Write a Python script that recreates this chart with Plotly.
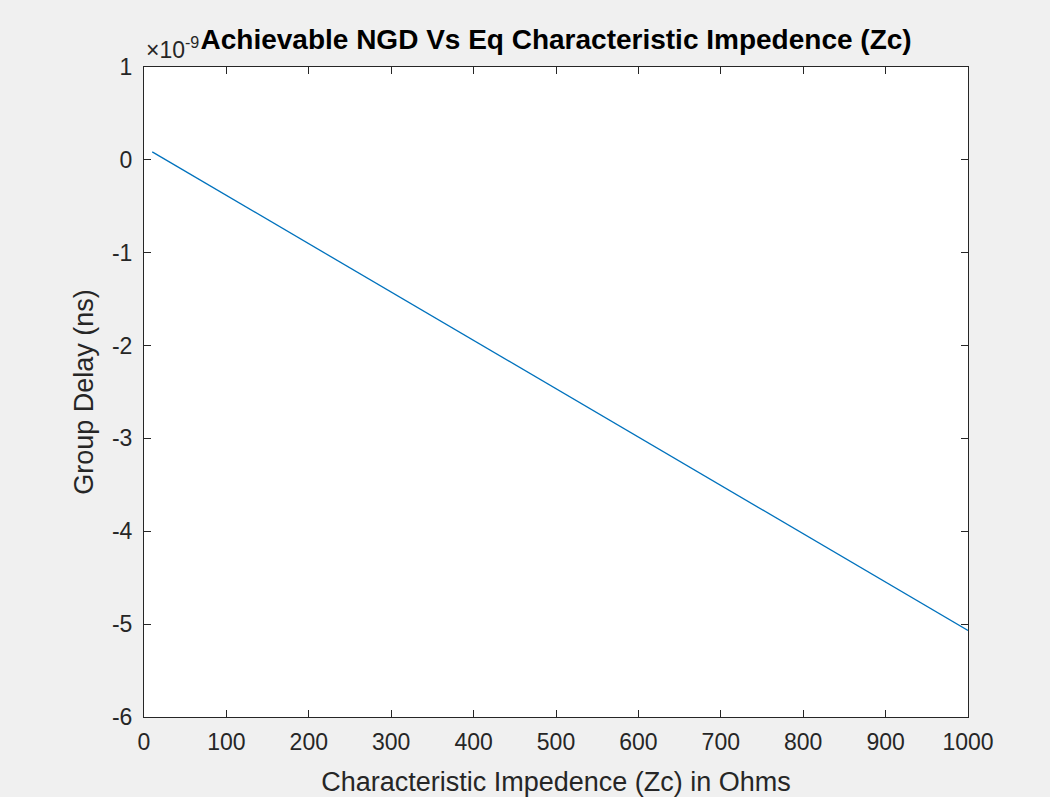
import plotly.graph_objects as go

# Data: impedance in ohms, group delay in seconds
zc_ohms = [10, 1000]
group_delay_s = [0.086e-9, -5.068e-9]

x_ticks = [0, 100, 200, 300, 400, 500, 600, 700, 800, 900, 1000]
y_ticks = [-6, -5, -4, -3, -2, -1, 0, 1]
y_scale = 1e-9

y_plot = [v / y_scale for v in group_delay_s]

fig = go.Figure()
fig.add_trace(go.Scatter(x=zc_ohms, y=y_plot, mode="lines",
                         line=dict(color="#0072BD", width=1.3),
                         showlegend=False, hoverinfo="x+y"))

font_family = "Liberation Sans, Arial, Helvetica, sans-serif"
axis_common = dict(showgrid=False, zeroline=False, showline=True, linecolor="#262626",
                   linewidth=1, mirror="ticks", ticks="inside", ticklen=7, automargin=False,
                   tickcolor="#262626", tickfont=dict(family=font_family, size=23, color="#262626"))

fig.update_layout(
    width=1050, height=797,
    paper_bgcolor="#F0F0F0", plot_bgcolor="#FFFFFF",
    margin=dict(l=144, r=82, t=67, b=80),
    title=dict(text="<b>Achievable NGD Vs Eq Characteristic Impedence (Zc)</b>",
               x=0.5296, xanchor="center", y=0.951, yanchor="middle",
               font=dict(family=font_family, size=28, color="#000000")),
    xaxis=dict(range=[0, 1000], tickvals=x_ticks, ticktext=[str(t) for t in x_ticks],
               ticklabelstandoff=4,
               title=dict(text="Characteristic Impedence (Zc) in Ohms",
                          font=dict(family=font_family, size=27, color="#262626"), standoff=22),
               **axis_common),
    yaxis=dict(range=[-6, 1], tickvals=y_ticks, ticktext=[str(t) for t in y_ticks],
               ticklabelstandoff=6,
               title=dict(text="Group Delay (ns)",
                          font=dict(family=font_family, size=27, color="#262626"), standoff=10),
               **axis_common),
    annotations=[dict(text="×10<sup>-9</sup>", xref="paper", yref="paper", x=0, y=1.0,
                      xanchor="left", yanchor="bottom", showarrow=False, yshift=2,
                      font=dict(family=font_family, size=23, color="#262626"))],
)

fig.write_html("out.html")
